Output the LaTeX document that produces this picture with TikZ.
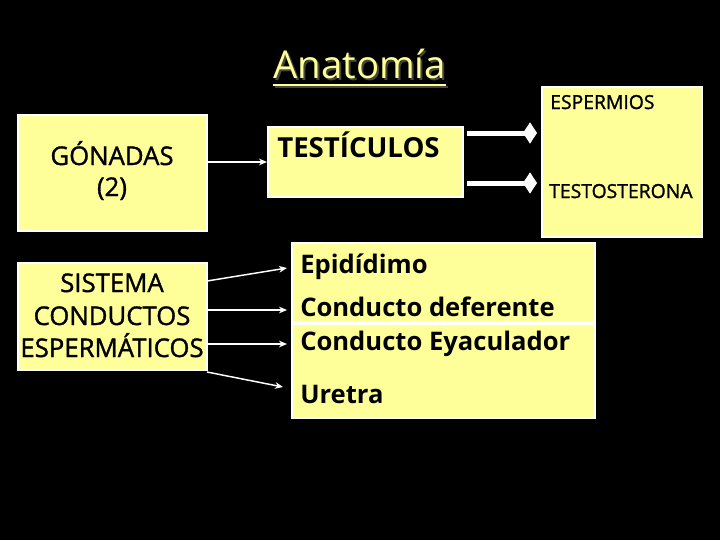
\documentclass[tikz,border=0pt]{standalone}
\usepackage{fontspec}
\setmainfont{Open Sans}
\newfontfamily\semib[FakeBold=1.3]{Open Sans}
\usetikzlibrary{arrows.meta,calc}
\definecolor{ylw}{RGB}{255,255,153}
\definecolor{shd}{RGB}{70,70,60}
\begin{document}
\begin{tikzpicture}[x=0.75pt,y=-0.75pt,
 box/.style={draw=white, line width=1.5pt, fill=ylw, inner sep=0pt},
 wa/.style={draw=white, line width=1.1pt, -{Stealth[length=6pt,width=5pt]}},
 da/.style={draw=white, line width=3.75pt, -{Diamond[length=10.5pt,width=16pt]}},
 lbl/.style={inner sep=0pt, text=black},
 lefttxt/.style={lbl, font=\semib\fontsize{19.3}{22}\selectfont, anchor=base},
 listtxt/.style={lbl, font=\bfseries\fontsize{19.2}{22}\selectfont, anchor=base west},
 smalltxt/.style={lbl, font=\semib\fontsize{14.5}{17}\selectfont, anchor=base west}]
\fill[black] (0,0) rectangle (720,540);
\useasboundingbox (0,0) rectangle (720,540);

% title
\node[inner sep=0pt, anchor=base west, text=shd, font=\fontsize{28.8}{32}\selectfont] (titshadow) at (275,80) {Anatomía};
\node[inner sep=0pt, anchor=base west, text=ylw, font=\fontsize{28.8}{32}\selectfont] (title) at (273,78) {Anatomía};
\draw[shd, line width=1.6pt] ($(titshadow.base west)+(0,7)$) -- ($(titshadow.base east)+(0,7)$);
\draw[ylw, line width=1.6pt] ($(title.base west)+(0,7)$) -- ($(title.base east)+(0,7)$);

% boxes
\node[box, minimum width=141.75pt, minimum height=87pt] (gon) at (112.5,173) {};
\node[box, minimum width=141.75pt, minimum height=80.25pt] (sis) at (112.5,316.5) {};
\node[box, minimum width=146.25pt, minimum height=52.5pt] (tes) at (365.5,162) {};
\node[box, minimum width=120pt, minimum height=112.5pt] (esp) at (622,162) {};
\node[box, minimum width=227.25pt, minimum height=59.25pt] (epi) at (443.5,282.5) {};
\node[box, minimum width=227.25pt, minimum height=70.5pt] (eya) at (443.5,371) {};

% texts
\node[lefttxt] (g1) at (112,165) {GÓNADAS};
\node[lefttxt] (g2) at (112,196) {(2)};
\node[lefttxt] (s1) at (112,292) {SISTEMA};
\node[lefttxt] (s2) at (112,325) {CONDUCTOS};
\node[lefttxt] (s3) at (112,357) {ESPERMÁTICOS};
\node[lbl, font=\bfseries\fontsize{20.7}{24}\selectfont, anchor=base west] (t1) at (277,157) {TESTÍCULOS};
\begin{scope}
\clip (esp.south west) rectangle (esp.north east);
\node[smalltxt] (e1) at (550,109) {ESPERMIOS};
\node[smalltxt] (e2) at (549,198) {TESTOSTERONA};
\end{scope}
\node[listtxt] (l1) at (300,273) {Epidídimo};
\node[listtxt] (l2) at (300,316) {Conducto deferente};
\node[listtxt] (l3) at (300,350) {Conducto Eyaculador};
\node[listtxt] (l4) at (300,403) {Uretra};

% connectors
\draw[wa] (gon.east |- tes.west) -- (tes.west);
\coordinate (d1s) at (467,133);
\coordinate (d1e) at (537,133);
\coordinate (d2s) at (467,183);
\coordinate (d2e) at (537,183);
\draw[da] (d1s) -- (d1e);
\draw[da] (d2s) -- (d2e);

\coordinate (a1s) at (207,281);
\coordinate (a1e) at (287,268);
\coordinate (a2s) at (207,310);
\coordinate (a2e) at (287,310);
\coordinate (a3s) at (207,344);
\coordinate (a3e) at (287,344);
\coordinate (a4s) at (207,372);
\coordinate (a4e) at (283,387);
\draw[wa] (a1s) -- (a1e);
\draw[wa] (a2s) -- (a2e);
\draw[wa] (a3s) -- (a3e);
\draw[wa] (a4s) -- (a4e);
\end{tikzpicture}
\end{document}
